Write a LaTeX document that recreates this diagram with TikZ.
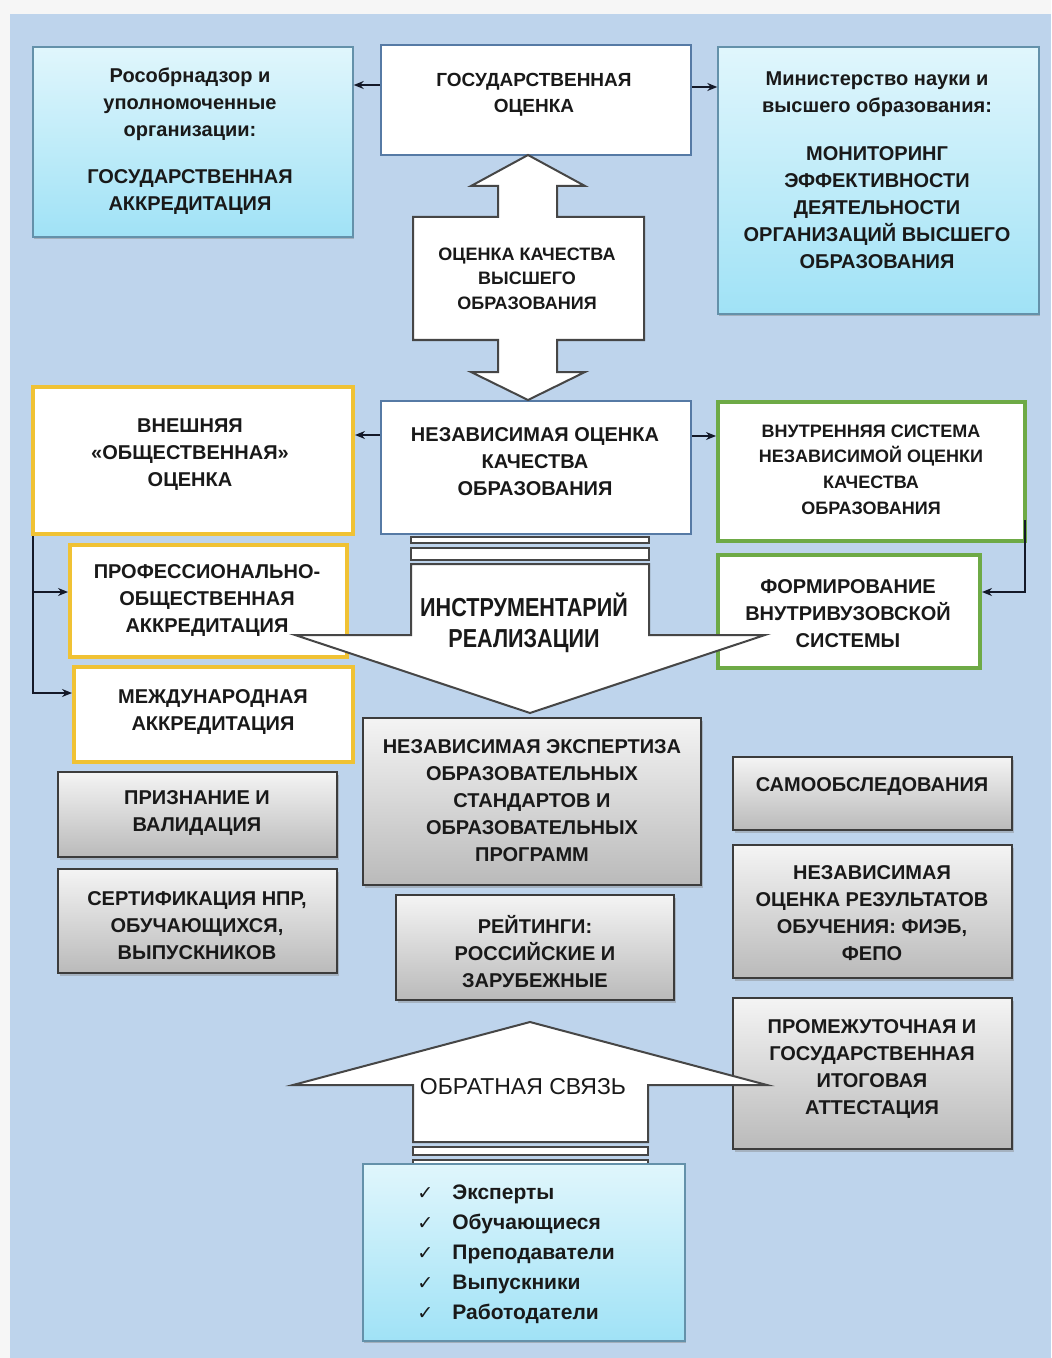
\documentclass[tikz,border=0pt]{standalone}
\usepackage{fontspec}
\setmainfont{Liberation Sans}
\newfontfamily\dejavu{DejaVu Sans}
\newfontfamily\narrowf[FakeStretch=0.83]{Liberation Sans}
\usetikzlibrary{arrows.meta,fit,shadows}
\definecolor{pagebg}{RGB}{246,246,246}
\definecolor{bgblue}{RGB}{190,212,236}
\definecolor{cyantop}{RGB}{224,246,252}
\definecolor{cyanbot}{RGB}{160,226,246}
\definecolor{cyanb}{RGB}{100,145,170}
\definecolor{wbord}{RGB}{86,122,165}
\definecolor{yel}{RGB}{240,194,52}
\definecolor{grn}{RGB}{110,170,70}
\definecolor{gbord}{RGB}{60,60,60}
\definecolor{graytop}{RGB}{244,244,244}
\definecolor{graybot}{RGB}{186,186,186}
\definecolor{txtc}{RGB}{25,25,25}
\definecolor{connc}{RGB}{20,25,40}
\definecolor{arrc}{RGB}{70,70,70}
\newcommand\mychk{\makebox[17.5pt][l]{\dejavu\bfseries\fontsize{9.5}{9.5}\selectfont ✓}}
\tikzset{
  bx/.style={inner sep=0pt},
  cyanbox/.style={bx, draw=cyanb, line width=0.7pt, top color=cyantop, bottom color=cyanbot,
    drop shadow={shadow xshift=0.6pt, shadow yshift=-1.2pt, opacity=0.45}},
  whitebox/.style={bx, draw=wbord, line width=1pt, fill=white},
  yelbox/.style={bx, draw=yel, line width=2pt, fill=white},
  grnbox/.style={bx, draw=grn, line width=2pt, fill=white},
  graybox/.style={bx, draw=gbord, line width=0.9pt, top color=graytop, bottom color=graybot,
    drop shadow={shadow xshift=0.8pt, shadow yshift=-1.4pt, opacity=0.4}},
  txt/.style={align=center, text=txtc, inner sep=0pt, font=\bfseries\fontsize{10}{13.5}\selectfont},
  conn/.style={draw=connc, line width=0.7pt, -{Stealth[length=5pt,width=4pt]}},
  bigarrow/.style={draw=arrc, line width=1pt, fill=white, line join=miter},
}
\begin{document}
\begin{tikzpicture}[x=0.5pt,y=-0.5pt]
\useasboundingbox (0,0) rectangle (1051,1358);
\fill[pagebg] (0,0) rectangle (1051,1358);
\fill[bgblue] (10,14) rectangle (1051,1358);

% boxes
\node[cyanbox, fit={(33,47)(353,237)}] (ros) {};
\node[whitebox, fit={(381,45)(691,155)}] (gos) {};
\node[cyanbox, fit={(718,47)(1039,314)}] (min) {};
\node[whitebox, fit={(381,401)(691,534)}] (nez) {};
\node[yelbox, fit={(33,387)(353,534)}] (vnesh) {};
\node[grnbox, fit={(718,402)(1025,541)}] (vnutr) {};
\node[grnbox, fit={(718,555)(980,668)}] (form) {};
\node[yelbox, fit={(70,545)(347,657)}] (prof) {};
\node[yelbox, fit={(74,667)(353,762)}] (mezh) {};
\node[graybox, fit={(363,718)(701,885)}] (eksp) {};
\node[graybox, fit={(58,772)(337,857)}] (priz) {};
\node[graybox, fit={(58,869)(337,973)}] (sert) {};
\node[graybox, fit={(396,895)(674,1000)}] (reit) {};
\node[graybox, fit={(733,757)(1012,830)}] (samo) {};
\node[graybox, fit={(733,845)(1012,978)}] (nezo) {};
\node[graybox, fit={(733,998)(1012,1149)}] (prom) {};

% connectors
\draw[conn] (gos.west |- 0,85) -- (ros.east |- 0,85);
\draw[conn] (gos.east |- 0,87) -- (min.west |- 0,87);
\draw[conn] (nez.west |- 0,435) -- (vnesh.east |- 0,435);
\draw[conn] (nez.east |- 0,436) -- (vnutr.west |- 0,436);
\draw[conn] ([xshift=-1pt]vnutr.east |- 0,520) |- (form.east |- 0,592);
\draw[conn] ([xshift=1pt]vnesh.south west) |- (prof.west |- 0,592);
\draw[conn] ([xshift=1pt]vnesh.south west) |- (mezh.west |- 0,693);

% double arrow
\draw[bigarrow] (528,155) -- (585,186) -- (557,186) -- (557,217) -- (644,217) -- (644,340)
  -- (557,340) -- (557,372) -- (585,372) -- (528,400) -- (471,372) -- (498,372) -- (498,340)
  -- (413,340) -- (413,217) -- (498,217) -- (498,186) -- (471,186) -- cycle;

% down arrow
\draw[bigarrow] (411,537) rectangle (649,543);
\draw[bigarrow] (411,548) rectangle (649,560);
\draw[bigarrow] (411,564) -- (649,564) -- (649,635) -- (765,635) -- (530,713) -- (295,635)
  -- (411,635) -- cycle;

% up arrow
\draw[bigarrow] (413,1160) rectangle (648,1168);
\draw[bigarrow] (413,1147) rectangle (648,1155);
\draw[bigarrow] (530,1022) -- (767,1085) -- (648,1085) -- (648,1142) -- (413,1142) -- (413,1085)
  -- (293,1085) -- cycle;
\node[cyanbox, fit={(363,1164)(685,1341)}] (list) {};

% texts
\node[txt] (t-ros) at (190,141.5) {Рособрнадзор и\\уполномоченные\\организации:\\[10pt]ГОСУДАРСТВЕННАЯ\\АККРЕДИТАЦИЯ};
\node[txt, font=\bfseries\fontsize{9.5}{13}\selectfont] (t-gos) at (534,95) {ГОСУДАРСТВЕННАЯ\\ОЦЕНКА};
\node[txt] (t-min) at (877,170.5) {Министерство науки и\\высшего образования:\\[10.5pt]МОНИТОРИНГ\\ЭФФЕКТИВНОСТИ\\ДЕЯТЕЛЬНОСТИ\\ОРГАНИЗАЦИЙ ВЫСШЕГО\\ОБРАЗОВАНИЯ};
\node[txt, font=\bfseries\fontsize{9}{12.25}\selectfont] (t-okvo) at (527,278.5) {ОЦЕНКА КАЧЕСТВА\\ВЫСШЕГО\\ОБРАЗОВАНИЯ};
\node[txt] (t-nez) at (535,461.5) {НЕЗАВИСИМАЯ ОЦЕНКА\\КАЧЕСТВА\\ОБРАЗОВАНИЯ};
\node[txt] (t-vnesh) at (190,454.5) {ВНЕШНЯЯ\\«ОБЩЕСТВЕННАЯ»\\ОЦЕНКА};
\node[txt, font=\bfseries\fontsize{9}{12.85}\selectfont] (t-vnutr) at (871,469.5) {ВНУТРЕННЯЯ СИСТЕМА\\НЕЗАВИСИМОЙ ОЦЕНКИ\\КАЧЕСТВА\\ОБРАЗОВАНИЯ};
\node[txt] (t-form) at (848,613.5) {ФОРМИРОВАНИЕ\\ВНУТРИВУЗОВСКОЙ\\СИСТЕМЫ};
\node[txt] (t-prof) at (207,601) {ПРОФЕССИОНАЛЬНО-\\ОБЩЕСТВЕННАЯ\\АККРЕДИТАЦИЯ};
\node[txt] (t-mezh) at (213,712) {МЕЖДУНАРОДНАЯ\\АККРЕДИТАЦИЯ};
\node[txt, font=\narrowf\bfseries\fontsize{13}{15.75}\selectfont] (t-instr) at (524,623) {ИНСТРУМЕНТАРИЙ\\РЕАЛИЗАЦИИ};
\node[txt] (t-eksp) at (532,801) {НЕЗАВИСИМАЯ ЭКСПЕРТИЗА\\ОБРАЗОВАТЕЛЬНЫХ\\СТАНДАРТОВ И\\ОБРАЗОВАТЕЛЬНЫХ\\ПРОГРАММ};
\node[txt] (t-priz) at (197,813.5) {ПРИЗНАНИЕ И\\ВАЛИДАЦИЯ};
\node[txt] (t-sert) at (197,925.5) {СЕРТИФИКАЦИЯ НПР,\\ОБУЧАЮЩИХСЯ,\\ВЫПУСКНИКОВ};
\node[txt] (t-reit) at (535,952) {РЕЙТИНГИ:\\РОССИЙСКИЕ И\\ЗАРУБЕЖНЫЕ};
\node[txt] (t-samo) at (872,787) {САМООБСЛЕДОВАНИЯ};
\node[txt] (t-nezo) at (872,913) {НЕЗАВИСИМАЯ\\ОЦЕНКА РЕЗУЛЬТАТОВ\\ОБУЧЕНИЯ: ФИЭБ,\\ФЕПО};
\node[txt] (t-prom) at (872,1068.5) {ПРОМЕЖУТОЧНАЯ И\\ГОСУДАРСТВЕННАЯ\\ИТОГОВАЯ\\АТТЕСТАЦИЯ};
\node[txt, font=\fontsize{11.5}{14}\selectfont] (t-obr) at (523,1087) {ОБРАТНАЯ СВЯЗЬ};
\node[txt, anchor=west, align=left, font=\bfseries\fontsize{10.5}{15}\selectfont] (t-list) at (417,1254)
  {\mychk Эксперты\\\mychk Обучающиеся\\\mychk Преподаватели\\\mychk Выпускники\\\mychk Работодатели};
\end{tikzpicture}
\end{document}
